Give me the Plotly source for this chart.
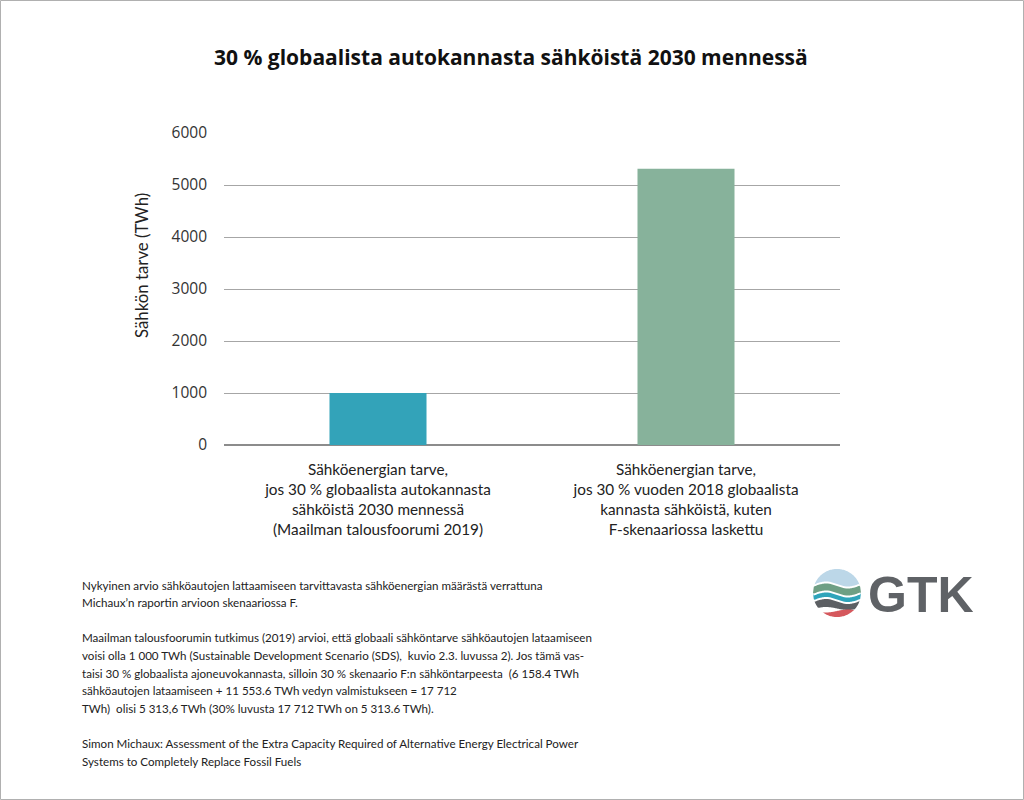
import numpy as np
import plotly.graph_objects as go

# ---- data ----
categories = [
    "Sähköenergian tarve,<br>jos 30 % globaalista autokannasta<br>sähköistä 2030 mennessä<br>(Maailman talousfoorumi 2019)",
    "Sähköenergian tarve,<br>jos 30 % vuoden 2018 globaalista<br>kannasta sähköistä, kuten<br>F-skenaariossa laskettu",
]
values = [1000, 5313.6]
bar_colors = ["#33a3b9", "#87b29b"]
y_ticks = [0, 1000, 2000, 3000, 4000, 5000, 6000]

title = "30 % globaalista autokannasta sähköistä 2030 mennessä"
y_title = "Sähkön tarve (TWh)"
note_lines = [
    "Nykyinen arvio sähköautojen lattaamiseen tarvittavasta sähköenergian määrästä verrattuna",
    "Michaux’n raportin arvioon skenaariossa F.",
    "",
    "Maailman talousfoorumin tutkimus (2019) arvioi, että globaali sähköntarve sähköautojen lataamiseen",
    "voisi olla 1 000 TWh (Sustainable Development Scenario (SDS),  kuvio 2.3. luvussa 2). Jos tämä vas-",
    "taisi 30 % globaalista ajoneuvokannasta, silloin 30 % skenaario F:n sähköntarpeesta  (6 158.4 TWh",
    "sähköautojen lataamiseen + 11 553.6 TWh vedyn valmistukseen = 17 712",
    "TWh)  olisi 5 313,6 TWh (30% luvusta 17 712 TWh on 5 313.6 TWh).",
    "",
    "Simon Michaux: Assessment of the Extra Capacity Required of Alternative Energy Electrical Power",
    "Systems to Completely Replace Fossil Fuels",
]

W, H = 1024, 800
L, R, T, B = 224, 840, 133, 445  # plot area in pixels


def px(x):
    return (x - L) / (R - L)


def py(y):
    return (B - y) / (B - T)


FONT = "Lato, sans-serif"

fig = go.Figure(go.Bar(
    x=categories, y=values, marker_color=bar_colors,
    marker_line_width=0, width=0.315, hoverinfo="skip",
))

fig.update_layout(
    width=W, height=H,
    margin=dict(l=L, r=W - R, t=T, b=H - B),
    plot_bgcolor="white", paper_bgcolor="white",
    showlegend=False,
    font=dict(family=FONT, size=15, color="#222"),
    xaxis=dict(showgrid=False, showline=False, ticks="", ticklabelstandoff=14,
               tickfont=dict(size=15.3, color="#222")),
    yaxis=dict(range=[0, 6000], tickvals=y_ticks, showgrid=True, gridcolor="#a6a6a6",
               gridwidth=1, zeroline=True, zerolinecolor="#8c8c8c", zerolinewidth=1.5,
               ticks="", ticklabelstandoff=16,
               tickfont=dict(size=15.5, color="#333", family="Open Sans, sans-serif")),
)

ann = []
ann.append(dict(text="<b>" + title + "</b>", x=px(511), y=py(57), xref="paper", yref="paper",
                showarrow=False, font=dict(size=21, color="#111", family="Open Sans, sans-serif"),
                xanchor="center", yanchor="middle"))
ann.append(dict(text=y_title, x=px(141), y=py(266), xref="paper", yref="paper", textangle=-90,
                showarrow=False, font=dict(size=16.8, color="#222"), xanchor="center", yanchor="middle"))
y0, dy = 585, 17.6
for i, line in enumerate(note_lines):
    if not line:
        continue
    ann.append(dict(text=line, x=px(80), y=py(y0 + i * dy), xref="paper", yref="paper",
                    showarrow=False, align="left", xanchor="left", yanchor="middle",
                    font=dict(size=11.6, color="#222", family=FONT)))
ann.append(dict(text="<b>GTK</b>", x=px(866), y=py(595), xref="paper", yref="paper", showarrow=False,
                xanchor="left", yanchor="middle",
                font=dict(size=50, color="#5f6266", family="Liberation Sans, Arial")))

shapes = []
# outer border
shapes.append(dict(type="rect", xref="paper", yref="paper", x0=px(0.5), x1=px(W - 0.5),
                   y0=py(H - 0.5), y1=py(0.5), line=dict(color="#b0b0b0", width=1),
                   fillcolor="rgba(0,0,0,0)", layer="below"))

# logo: circle made of wavy bands
cx, cy, r = 837, 593, 24
xs = np.linspace(cx - r, cx + r, 61)
dx = xs - cx
h = np.sqrt(np.clip(r ** 2 - dx ** 2, 0, None))


def wave(off, amp=2.5, ph=0.0):
    return cy + off + amp * np.sin((dx / r) * np.pi * 1.1 + ph)


bands = [
    ("#bcd7e8", cy - r - 1, wave(-9.0)),
    ("#6e9f84", wave(-7.0), wave(0.0)),
    ("#2fa4ba", wave(2.0), wave(6.5)),
    ("#5c5f63", wave(8.5), wave(15.5, amp=1.5)),
    ("#d5585d", wave(18.0, amp=-1.5), cy + r + 1),
]
for col, top, bot in bands:
    top = np.broadcast_to(top, xs.shape)
    bot = np.broadcast_to(bot, xs.shape)
    t = np.clip(top, cy - h, cy + h)
    b = np.clip(bot, cy - h, cy + h)
    pts = [(x, y) for x, y in zip(xs, t)] + [(x, y) for x, y in zip(xs[::-1], b[::-1])]
    path = "M " + " L ".join(f"{px(x):.5f},{py(y):.5f}" for x, y in pts) + " Z"
    shapes.append(dict(type="path", xref="paper", yref="paper", path=path,
                       fillcolor=col, line=dict(width=0)))

fig.update_layout(annotations=ann, shapes=shapes)
fig.write_html("out.html", config={"displayModeBar": False},
               post_script="document.body.style.margin='0';document.body.style.padding='0';")
